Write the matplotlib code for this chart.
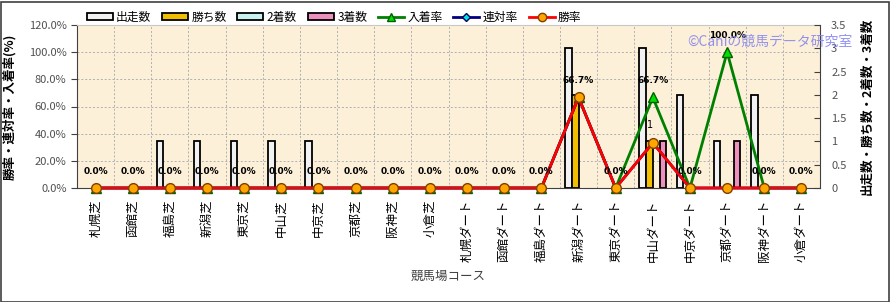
import matplotlib
matplotlib.use("Agg")
import matplotlib.pyplot as plt
from matplotlib.patches import Patch, Rectangle
from matplotlib.lines import Line2D
import numpy as np

plt.rcParams['font.family'] = ['Noto Sans CJK JP', 'DejaVu Sans']

courses = ["札幌芝", "函館芝", "福島芝", "新潟芝", "東京芝", "中山芝", "中京芝", "京都芝", "阪神芝", "小倉芝",
           "札幌ダート", "函館ダート", "福島ダート", "新潟ダート", "東京ダート", "中山ダート", "中京ダート",
           "京都ダート", "阪神ダート", "小倉ダート"]
starts = [0, 0, 1, 1, 1, 1, 1, 0, 0, 0, 0, 0, 0, 3, 0, 3, 2, 1, 2, 0]
wins = [0, 0, 0, 0, 0, 0, 0, 0, 0, 0, 0, 0, 0, 2, 0, 1, 0, 0, 0, 0]
seconds = [0] * 20
thirds = [0, 0, 0, 0, 0, 0, 0, 0, 0, 0, 0, 0, 0, 0, 0, 1, 0, 1, 0, 0]
place_rate = [0, 0, 0, 0, 0, 0, 0, 0, 0, 0, 0, 0, 0, 66.7, 0, 66.7, 0, 100.0, 0, 0]
rentai_rate = [0, 0, 0, 0, 0, 0, 0, 0, 0, 0, 0, 0, 0, 66.7, 0, 33.3, 0, 0, 0, 0]
win_rate = [0, 0, 0, 0, 0, 0, 0, 0, 0, 0, 0, 0, 0, 66.7, 0, 33.3, 0, 0, 0, 0]
left_ticks = [0, 20, 40, 60, 80, 100, 120]
right_ticks = [0, 0.5, 1, 1.5, 2, 2.5, 3, 3.5]
right_tick_labels = ["0", "0.5", "1", "1.5", "2", "2.5", "3", "3.5"]

W, H = 890, 302
fig = plt.figure(figsize=(W / 100, H / 100), dpi=100)
fig.patch.set_facecolor('white')
fig.patches.append(Rectangle((0.5 / W, 0.5 / H), 1 - 2 / W, 1 - 2 / H, transform=fig.transFigure,
                             fill=False, edgecolor='#404040', linewidth=1.2))

pos = [77 / W, 1 - 188 / H, (820 - 77) / W, (188 - 25) / H]
ax1 = fig.add_axes(pos)
ax1.set_facecolor('#FCF0D8')
x = np.arange(len(courses))
ax1.set_xlim(-0.5, len(courses) - 0.5)
ax1.set_ylim(0, 120)
ax1.set_yticks(left_ticks)
ax1.set_yticklabels([f"{v:.1f}%" for v in left_ticks], fontsize=8, color='#505050')
ax1.set_xticks(x)
ax1.set_xticklabels(courses, rotation=90, fontsize=9, color='black')
ax1.set_xticks(np.arange(len(courses) + 1) - 0.5, minor=True)
ax1.grid(True, which='minor', axis='x', linestyle=(0, (2, 2)), color='#B0B0B0', linewidth=0.7)
ax1.grid(True, which='major', axis='y', linestyle=(0, (2, 2)), color='#B0B0B0', linewidth=0.7)
ax1.tick_params(axis='x', which='both', length=0, pad=8)
ax1.tick_params(axis='y', length=4, color='#404040')
for s in ['left', 'bottom']:
    ax1.spines[s].set_color('#404040')
ax1.spines['top'].set_color('#C8C8C8')
ax1.spines['right'].set_visible(False)
ax1.set_ylabel("勝率・連対率・入着率(%)", fontsize=9, fontweight='bold')
ax1.yaxis.set_label_coords(-0.082, 0.5)
ax1.set_xlabel("競馬場コース", fontsize=9, color='#404040')
ax1.xaxis.set_label_coords(0.5, -0.50)

ax2 = ax1.twinx()
ax2.set_ylim(0, 3.5)
ax2.set_yticks(right_ticks)
ax2.set_yticklabels(right_tick_labels, fontsize=8, color='#505050')
ax2.tick_params(axis='y', direction='in', length=4, color='#404040', pad=8)
for s in ['left', 'top', 'bottom']:
    ax2.spines[s].set_visible(False)
ax2.spines['right'].set_color('#404040')
ax2.set_ylabel("出走数・勝ち数・2着数・3着数", fontsize=9, fontweight='bold', rotation=90)
ax2.yaxis.set_label_coords(1.055, 0.5)
bw = 0.18
bar_specs = [(starts, '#F2F2F2', '出走数'), (wins, '#F2BE00', '勝ち数'),
             (seconds, '#C8F0EE', '2着数'), (thirds, '#EE90BE', '3着数')]
for k, (vals, col, lab) in enumerate(bar_specs):
    bars = ax2.bar(x + (k - 1.5) * bw, vals, width=bw, color=col, edgecolor='black', linewidth=1.3, label=lab)
    for b, v in zip(bars, vals):
        if v == 0:
            b.set_visible(False)

ax3 = ax1.twinx()
ax3.set_ylim(0, 120)
ax3.axis('off')
ax3.plot(x, place_rate, color='#008000', linewidth=2, marker='^', markersize=7,
         markerfacecolor='#00E000', markeredgecolor='#006000', clip_on=False, zorder=3)
ax3.plot(x, rentai_rate, color='#000080', linewidth=2, marker='D', markersize=5,
         markerfacecolor='#00E0E0', markeredgecolor='#000060', clip_on=False, zorder=4)
ax3.plot(x, win_rate, color='#FF0000', linewidth=2, marker='o', markersize=7,
         markerfacecolor='#FFA500', markeredgecolor='#804000', clip_on=False, zorder=5)
for i, v in enumerate(place_rate):
    ax3.annotate(f"{v:.1f}%", (i, v), xytext=(0, 9), textcoords='offset points', ha='center',
                 va='bottom', fontsize=6.5, fontweight='bold', family='DejaVu Sans', zorder=6)
ax2.annotate("1", (15, wins[15]), xytext=(-2, 8), textcoords='offset points', ha='center', va='bottom',
             fontsize=7, family='DejaVu Sans')

handles = [Patch(facecolor=c, edgecolor='black', linewidth=1.3, label=l) for _, c, l in bar_specs]
handles += [Line2D([], [], color='#008000', lw=2, marker='^', markersize=6, markerfacecolor='#00E000',
                   markeredgecolor='#006000', label='入着率'),
            Line2D([], [], color='#000080', lw=2, marker='D', markersize=4, markerfacecolor='#00E0E0',
                   markeredgecolor='#000060', label='連対率'),
            Line2D([], [], color='#FF0000', lw=2, marker='o', markersize=6, markerfacecolor='#FFA500',
                   markeredgecolor='#804000', label='勝率')]
fig.legend(handles=handles, loc='upper left', bbox_to_anchor=(76 / W, 1 - 0 / H), ncol=7, frameon=False,
           fontsize=8.5, handlelength=2.2, handleheight=0.6, columnspacing=0.9, handletextpad=0.3)

fig.text(687 / W, 1 - 42 / H, "©Caniの競馬データ研究室", fontsize=10, color='#8080F0', alpha=0.85,
         va='center', ha='left')

fig.savefig("out.png", dpi=100)
